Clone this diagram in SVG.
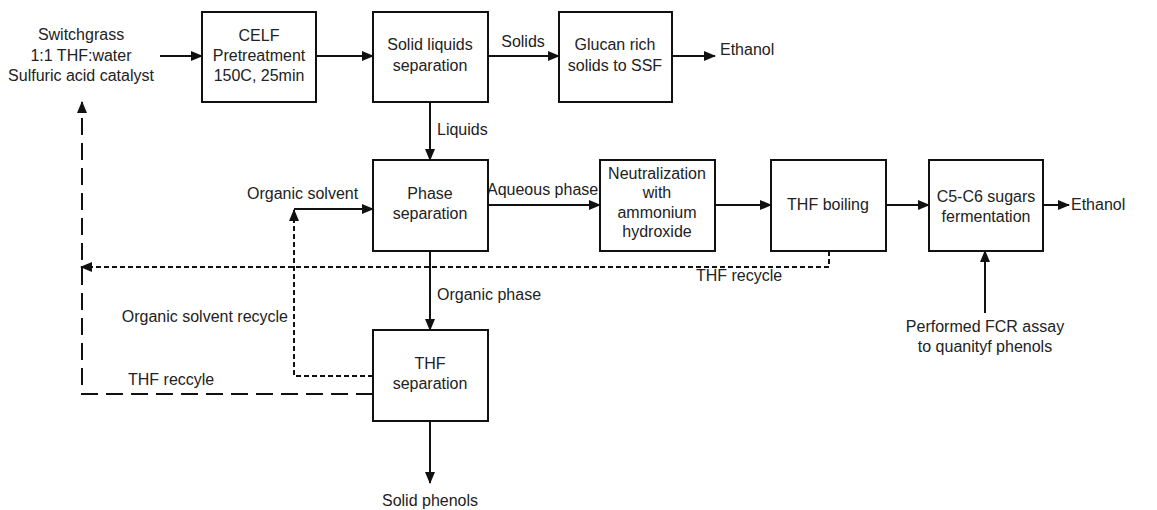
<svg xmlns="http://www.w3.org/2000/svg" width="1157" height="510" viewBox="0 0 1157 510">
<style>
text{font-family:"Liberation Sans",Arial,sans-serif;font-size:16px;fill:#222}
.c{text-anchor:middle}
.box{fill:#fff;stroke:#111;stroke-width:2}
.ln{fill:none;stroke:#111;stroke-width:2}
.sd{fill:none;stroke:#111;stroke-width:2;stroke-dasharray:5 3}
.ld{fill:none;stroke:#111;stroke-width:2;stroke-dasharray:17 8}
</style>
<defs>
<marker id="ah" markerUnits="userSpaceOnUse" markerWidth="12" markerHeight="10" refX="11" refY="5" orient="auto">
<path d="M0,0 L12,5 L0,10 z" fill="#111"/>
</marker>
</defs>
<rect width="1157" height="510" fill="#fff"/>
<g id="connectors">
<path class="ln" d="M160,56 H202" marker-end="url(#ah)"/>
<path class="ln" d="M316,56 H373" marker-end="url(#ah)"/>
<path class="ln" d="M488,56 H559" marker-end="url(#ah)"/>
<path class="ln" d="M672,56 H715" marker-end="url(#ah)"/>
<path class="ln" d="M430,102 V160" marker-end="url(#ah)"/>
<path class="ln" d="M488,205 H600" marker-end="url(#ah)"/>
<path class="ln" d="M715,205 H771" marker-end="url(#ah)"/>
<path class="ln" d="M886,205 H929" marker-end="url(#ah)"/>
<path class="ln" d="M1043,205 H1069" marker-end="url(#ah)"/>
<path class="ln" d="M985,313 V251" marker-end="url(#ah)"/>
<path class="ln" d="M430,251 V330" marker-end="url(#ah)"/>
<path class="ln" d="M430,421 V483" marker-end="url(#ah)"/>
<path class="ln" d="M294,209 H373" marker-end="url(#ah)"/>
<path class="sd" d="M829,251 V267 H81" marker-end="url(#ah)"/>
<path class="sd" d="M373,376 H294 V210" marker-end="url(#ah)"/>
<path class="ld" d="M373,394 H82 V102" marker-end="url(#ah)"/>
<text x="523" y="47" class="c">Solids</text>
<text x="437" y="135">Liquids</text>
<text x="487" y="195">Aqueous phase</text>
<text x="437" y="300">Organic phase</text>
<text x="739" y="281" class="c">THF recycle</text>
<text x="247" y="199">Organic solvent</text>
<text x="288" y="322" text-anchor="end">Organic solvent recycle</text>
<text x="128" y="385">THF reccyle</text>
</g>
<g id="input">
<text x="81" y="40" class="c">Switchgrass</text>
<text x="81" y="61" class="c">1:1 THF:water</text>
<text x="81" y="81" class="c">Sulfuric acid catalyst</text>
</g>
<g id="celf">
<rect class="box" x="202" y="12" width="114" height="90"/>
<text x="259" y="41" class="c">CELF</text>
<text x="259" y="61" class="c">Pretreatment</text>
<text x="259" y="81" class="c">150C, 25min</text>
</g>
<g id="sls">
<rect class="box" x="373" y="12" width="115" height="90"/>
<text x="430" y="50" class="c">Solid liquids</text>
<text x="430" y="71" class="c">separation</text>
</g>
<g id="glucan">
<rect class="box" x="559" y="12" width="113" height="90"/>
<text x="615" y="50" class="c">Glucan rich</text>
<text x="615" y="71" class="c">solids to SSF</text>
</g>
<g id="ethanol1">
<text x="720" y="55">Ethanol</text>
</g>
<g id="phase">
<rect class="box" x="373" y="160" width="115" height="91"/>
<text x="430" y="199" class="c">Phase</text>
<text x="430" y="219" class="c">separation</text>
</g>
<g id="neutral">
<rect class="box" x="600" y="160" width="115" height="91"/>
<text x="657" y="179" class="c">Neutralization</text>
<text x="657" y="198" class="c">with</text>
<text x="657" y="218" class="c">ammonium</text>
<text x="657" y="237" class="c">hydroxide</text>
</g>
<g id="boiling">
<rect class="box" x="771" y="160" width="115" height="91"/>
<text x="828" y="210" class="c">THF boiling</text>
</g>
<g id="ferment">
<rect class="box" x="929" y="160" width="114" height="91"/>
<text x="986" y="202" class="c">C5-C6 sugars</text>
<text x="986" y="222" class="c">fermentation</text>
</g>
<g id="ethanol2">
<text x="1071" y="210">Ethanol</text>
</g>
<g id="fcr">
<text x="985" y="332" class="c">Performed FCR assay</text>
<text x="985" y="352" class="c">to quanityf phenols</text>
</g>
<g id="thfsep">
<rect class="box" x="373" y="330" width="115" height="91"/>
<text x="430" y="369" class="c">THF</text>
<text x="430" y="389" class="c">separation</text>
</g>
<g id="phenols">
<text x="430" y="506" class="c">Solid phenols</text>
</g>
</svg>
